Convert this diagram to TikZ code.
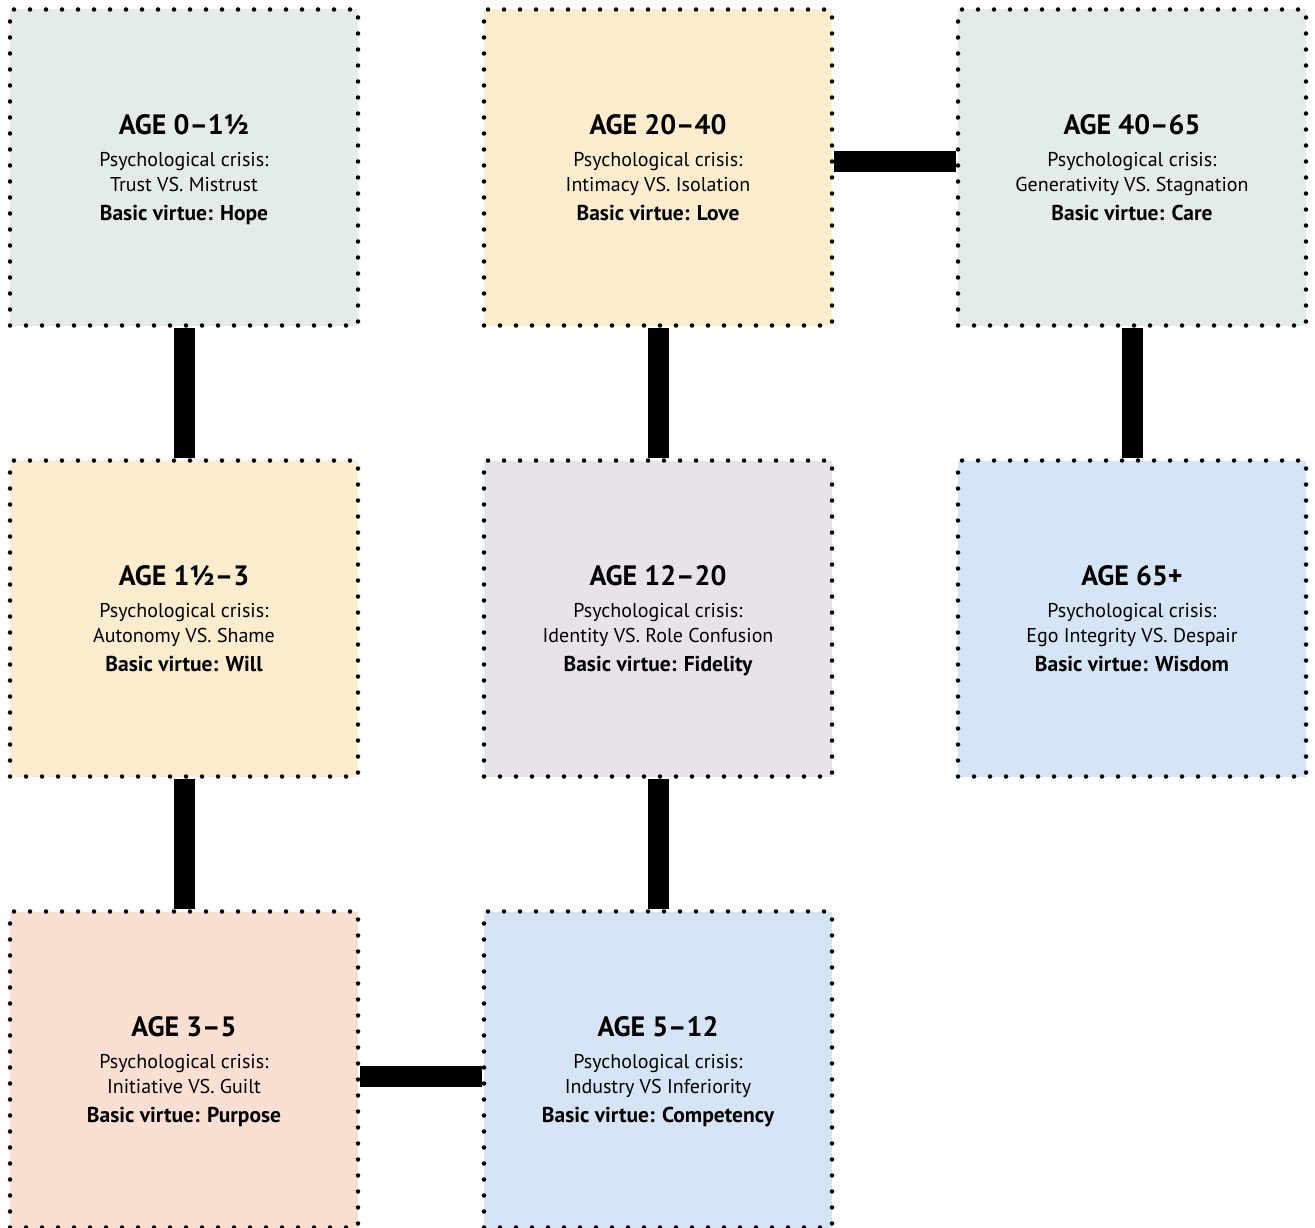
\documentclass[tikz,border=0pt]{standalone}
\usepackage{fontspec}
\setmainfont{PT Sans}
\newcommand\stagecontent[3]{\parbox{344pt}{\centering
  {\fontsize{28}{30}\selectfont\bfseries\rule{0pt}{28pt}#1\par}
  \vspace{7pt}
  {\fontsize{20}{25}\selectfont Psychological crisis:\par #2\par}
  {\fontsize{21.5}{29}\selectfont\bfseries Basic virtue: #3\rule[-8pt]{0pt}{8pt}\par}}}
\definecolor{sgreen}{RGB}{227,236,230}
\definecolor{syellow}{RGB}{253,237,207}
\definecolor{spurple}{RGB}{232,227,235}
\definecolor{sblue}{RGB}{214,229,245}
\definecolor{ssalmon}{RGB}{250,223,210}
\tikzset{
  stagebox/.style={minimum width=348pt, minimum height=316pt, inner sep=0pt,
    draw=black, line width=4.5pt, dash pattern=on 0pt off 16pt,
    line cap=round},
  link/.style={line width=21pt, draw=black}
}
\begin{document}
\begin{tikzpicture}[x=1pt,y=1pt]
\useasboundingbox (0,0) rectangle (1315,-1228);
\node[stagebox, fill=sgreen] (s1) at (184,-167.5) {\stagecontent{AGE 0–1½}{Trust VS. Mistrust}{Hope}};
\node[stagebox, fill=syellow] (s2) at (184,-618.5) {\stagecontent{AGE 1½–3}{Autonomy VS. Shame}{Will}};
\node[stagebox, fill=ssalmon] (s3) at (184,-1069.5) {\stagecontent{AGE 3–5}{Initiative VS. Guilt}{Purpose}};
\node[stagebox, fill=sblue] (s4) at (658,-1069.5) {\stagecontent{AGE 5–12}{Industry VS Inferiority}{Competency}};
\node[stagebox, fill=spurple] (s5) at (658,-618.5) {\stagecontent{AGE 12–20}{Identity VS. Role Confusion}{Fidelity}};
\node[stagebox, fill=syellow] (s6) at (658,-167.5) {\stagecontent{AGE 20–40}{Intimacy VS. Isolation}{Love}};
\node[stagebox, fill=sgreen] (s7) at (1132,-167.5) {\stagecontent{AGE 40–65}{Generativity VS. Stagnation}{Care}};
\node[stagebox, fill=sblue] (s8) at (1132,-618.5) {\stagecontent{AGE 65+}{Ego Integrity VS. Despair}{Wisdom}};
\draw[link] (s1.south) -- (s2.north);
\draw[link] (s2.south) -- (s3.north);
\draw[link] ([yshift=-6.5pt]s3.east) -- ([yshift=-6.5pt]s4.west);
\draw[link] (s4.north) -- (s5.south);
\draw[link] (s5.north) -- (s6.south);
\draw[link] ([yshift=5.5pt]s6.east) -- ([yshift=5.5pt]s7.west);
\draw[link] (s7.south) -- (s8.north);
\end{tikzpicture}
\end{document}
